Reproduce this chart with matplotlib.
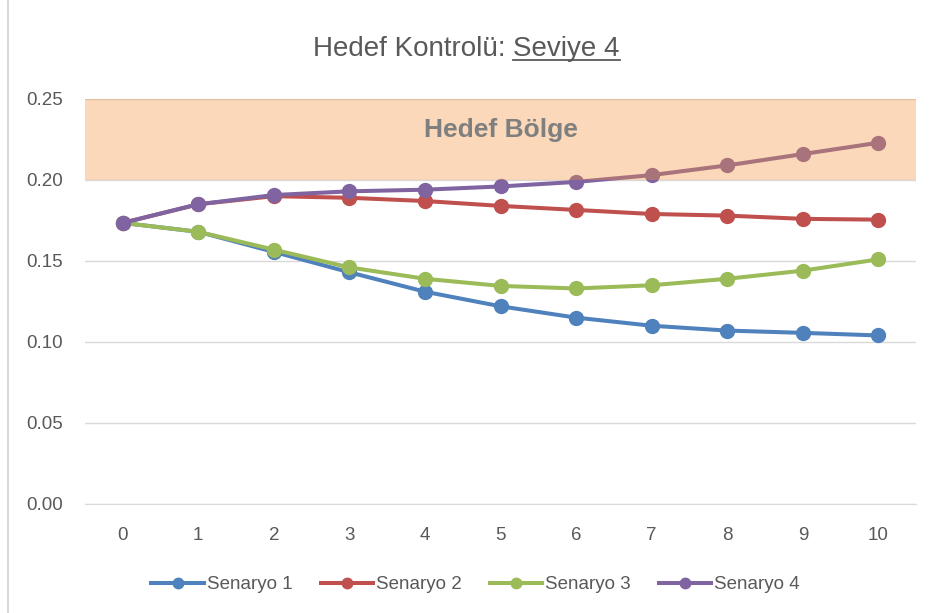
import numpy as np
import matplotlib.pyplot as plt
from matplotlib.lines import Line2D
from matplotlib.patches import Rectangle

plt.rcParams['font.family'] = ['Liberation Sans', 'DejaVu Sans']

x = np.arange(0, 11)
y1 = np.array([0.1735, 0.168, 0.1556, 0.143, 0.131, 0.122, 0.115, 0.110, 0.107, 0.1056, 0.104])
y2 = np.array([0.1735, 0.185, 0.190, 0.189, 0.187, 0.184, 0.1815, 0.179, 0.178, 0.176, 0.1755])
y3 = np.array([0.1735, 0.168, 0.157, 0.146, 0.139, 0.1346, 0.133, 0.135, 0.139, 0.144, 0.151])
y4 = np.array([0.1735, 0.185, 0.1907, 0.193, 0.194, 0.196, 0.1988, 0.203, 0.209, 0.216, 0.223])

grey = '#595959'

fig = plt.figure(figsize=(9.33, 6.13), dpi=100)
fig.add_artist(Rectangle((8 / 933, -0.01), 1.0, 1.02, transform=fig.transFigure,
                         fill=False, edgecolor='#d9d9d9', lw=1.5))
ax = plt.axes([0.091, 0.178, 0.891, 0.6605])

plt.plot(x, y1, '-o', color='#4f81bd', lw=2.9, ms=10, label='Senaryo 1')
plt.plot(x, y2, '-o', color='#c0504d', lw=2.9, ms=10, label='Senaryo 2')
plt.plot(x, y3, '-o', color='#9bbb59', lw=2.9, ms=10, label='Senaryo 3')
plt.plot(x, y4, '-o', color='#8064a2', lw=2.9, ms=10, label='Senaryo 4')

# hedef bolge (on top of the lines, semi transparent)
plt.axhspan(0.20, 0.25, color='#f69037', alpha=0.35, lw=0, zorder=5)
plt.text(5, 0.231, 'Hedef Bölge', ha='center', va='center', fontsize=19,
         fontweight='bold', color='#7f7f7f', zorder=6)

plt.xticks(x)
plt.yticks(np.linspace(0, 0.25, 6), ['%.2f' % v for v in np.linspace(0, 0.25, 6)])
plt.axis([-0.5, 10.5, 0, 0.25])
plt.grid(axis='y', color='#d9d9d9', lw=1)
ax.set_axisbelow(True)
for s in ['top', 'right', 'left']:
    ax.spines[s].set_visible(False)
ax.spines['bottom'].set_color('#d9d9d9')
plt.tick_params(length=0, labelsize=13.5, labelcolor=grey)
plt.tick_params(axis='y', pad=16)
plt.tick_params(axis='x', pad=17)

leg = plt.legend(loc='center', bbox_to_anchor=(0.47, -0.2), ncol=4, frameon=False,
                 fontsize=13.5, labelcolor=grey, handlelength=2.8, columnspacing=1.5,
                 handletextpad=0.15, markerscale=0.75)

# title with underlined part
t1 = plt.figtext(0.5, 0.92, 'Hedef Kontrolü: ', ha='right', va='center', fontsize=20, color=grey)
t2 = plt.figtext(0.5, 0.92, 'Seviye 4', ha='left', va='center', fontsize=20, color=grey)
fig.canvas.draw()
b1 = t1.get_window_extent()
b2 = t2.get_window_extent()
shift = (b1.width + b2.width) / 2 - b1.width
t1.set_x(0.5 - shift / fig.bbox.width)
t2.set_x(0.5 - shift / fig.bbox.width)
fig.canvas.draw()
b2 = t2.get_window_extent()
x0, x1 = b2.x0 / fig.bbox.width, b2.x1 / fig.bbox.width
yl = (b2.y0 + 2) / fig.bbox.height
fig.add_artist(Line2D([x0, x1], [yl, yl], color=grey, lw=1.3, transform=fig.transFigure))

plt.savefig('out.png', dpi=100)
